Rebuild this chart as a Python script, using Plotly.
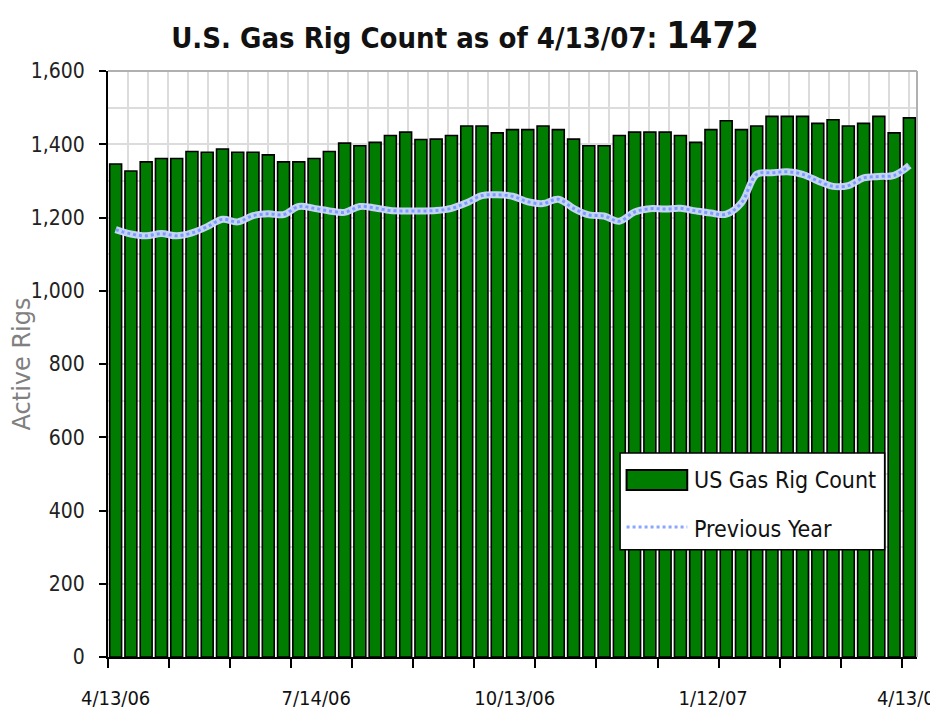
import pandas as pd
import plotly.graph_objects as go

# ---- data ----
week_dates = ["2006-04-13"] + [d.strftime("%Y-%m-%d") for d in pd.date_range("2006-04-21", "2007-04-13", freq="7D")]

gas_rigs = [1346, 1327, 1352, 1361, 1361, 1380, 1378, 1387, 1378, 1378,
            1371, 1352, 1352, 1361, 1380, 1403, 1396, 1405, 1424, 1433,
            1413, 1414, 1424, 1450, 1450, 1431, 1440, 1440, 1450, 1440,
            1414, 1396, 1396, 1424, 1433, 1433, 1433, 1424, 1405, 1440,
            1464, 1440, 1450, 1476, 1476, 1476, 1457, 1467, 1450, 1457,
            1476, 1431, 1472]

prev_year = [1167, 1155, 1150, 1156, 1150, 1158, 1175, 1195, 1188, 1205,
             1210, 1208, 1230, 1225, 1218, 1214, 1230, 1226, 1219, 1218,
             1218, 1219, 1225, 1240, 1260, 1262, 1258, 1243, 1238, 1250,
             1225, 1207, 1204, 1190, 1215, 1224, 1223, 1225, 1218, 1212,
             1209, 1240, 1318, 1322, 1325, 1318, 1300, 1285, 1287, 1308,
             1312, 1315, 1342]

label_dates = ["2006-04-13", "2006-07-14", "2006-10-13", "2007-01-12", "2007-04-13"]
label_text = ["4/13/06", "7/14/06", "10/13/06", "1/12/07", "4/13/07"]
y_ticks = [0, 200, 400, 600, 800, 1000, 1200, 1400, 1600]
series_names = ["US Gas Rig Count", "Previous Year"]

WEEK_MS = 7 * 86400000
FONT = "DejaVu Sans Condensed, Liberation Sans Narrow, Arial Narrow, Liberation Sans"
GREEN = "#007c00"

fig = go.Figure()

fig.add_trace(go.Bar(
    x=week_dates, y=gas_rigs, name=series_names[0],
    xperiod=WEEK_MS, xperiod0="2006-04-13", xperiodalignment="middle",
    marker=dict(color=GREEN, line=dict(color="#000000", width=1.6)),
    showlegend=False,
))
fig.add_trace(go.Scatter(
    x=week_dates, y=prev_year, mode="lines", showlegend=False,
    xperiod=WEEK_MS, xperiod0="2006-04-13", xperiodalignment="middle",
    line=dict(color="rgba(205,218,255,0.95)", width=7, shape="spline"),
    hoverinfo="skip",
))
fig.add_trace(go.Scatter(
    x=week_dates, y=prev_year, mode="lines", name=series_names[1],
    xperiod=WEEK_MS, xperiod0="2006-04-13", xperiodalignment="middle",
    line=dict(color="#7d9cff", width=3, dash="dot", shape="spline"),
    showlegend=False,
))

# invisible helper axis for the background vertical grid pattern
fig.add_trace(go.Scatter(x=[0, 40.4], y=[None, None], xaxis="x2",
                         showlegend=False, hoverinfo="skip"))

label_pos = [(pd.Timestamp(d) + pd.Timedelta(hours=84)).strftime("%Y-%m-%d %H:%M") for d in label_dates]

# legend box drawn as a framed key
legend_shapes = [
    dict(type="rect", xref="paper", yref="paper", x0=0.633, x1=0.960, y0=0.183, y1=0.348,
         fillcolor="white", line=dict(color="#000000", width=1.5), layer="above"),
    dict(type="rect", xref="paper", yref="paper", x0=0.641, x1=0.716, y0=0.285, y1=0.319,
         fillcolor=GREEN, line=dict(color="#000000", width=2), layer="above"),
    dict(type="line", xref="paper", yref="paper", x0=0.641, x1=0.716, y0=0.222, y1=0.222,
         line=dict(color="#8aa6ff", width=3, dash="dot"), layer="above"),
]
legend_annotations = [
    dict(xref="paper", yref="paper", x=0.722, y=0.302, xanchor="left", yanchor="middle",
         text=series_names[0], showarrow=False,
         font=dict(family=FONT, size=23, color="#111111")),
    dict(xref="paper", yref="paper", x=0.722, y=0.218, xanchor="left", yanchor="middle",
         text=series_names[1], showarrow=False,
         font=dict(family=FONT, size=23, color="#111111")),
]

fig.update_layout(
    width=930, height=704,
    paper_bgcolor="white", plot_bgcolor="white",
    margin=dict(l=100, r=21, t=63, b=55),
    bargap=0.22,
    showlegend=False,
    font=dict(family=FONT, color="#111111"),
    title=dict(
        text="<b>U.S. Gas Rig Count as of 4/13/07: <span style='font-size:37px'>1472</span></b>",
        x=0.4914, xanchor="center", y=0.957, yanchor="middle",
        font=dict(family=FONT, size=29, color="#111111"),
    ),
    xaxis=dict(
        type="date",
        range=["2006-04-13", "2007-04-19"],
        tickvals=label_pos, ticktext=label_text,
        ticks="", showgrid=False, automargin=False,
        ticklabeloverflow="allow", ticklabelstandoff=22,
        tickfont=dict(family=FONT, size=20, color="#111111"),
        showline=True, linecolor="#000000", linewidth=2,
        minor=dict(ticks="outside", ticklen=9, tickwidth=1.5, tickcolor="#000000",
                   tick0="2006-04-13", dtick=4 * WEEK_MS, showgrid=False),
        zeroline=False,
    ),
    xaxis2=dict(
        overlaying="x", range=[0, 40.4], dtick=1, showgrid=True,
        gridcolor="#dcdcdc", gridwidth=2, showticklabels=False, ticks="",
        zeroline=False, showline=False, layer="below traces",
    ),
    yaxis=dict(
        range=[0, 1600], tickvals=y_ticks, tickformat=",d",
        ticks="outside", ticklen=7, tickwidth=1.5, tickcolor="#000000",
        ticklabelstandoff=10,
        tickfont=dict(family=FONT, size=21, color="#222222"),
        showline=True, linecolor="#000000", linewidth=2,
        showgrid=True, gridcolor="#dcdcdc", gridwidth=2,
        minor=dict(dtick=100, showgrid=True, gridcolor="#dcdcdc", gridwidth=2),
        zeroline=False, automargin=False,
        title=dict(text="Active Rigs", font=dict(family="DejaVu Sans, Liberation Sans", size=24, color="#808080"), standoff=13),
    ),
    shapes=[
        dict(type="line", xref="paper", yref="paper", x0=0, x1=1, y0=1, y1=1,
             line=dict(color="#b0b0b0", width=2), layer="above"),
        dict(type="line", xref="paper", yref="paper", x0=1, x1=1, y0=0, y1=1,
             line=dict(color="#b0b0b0", width=2), layer="above"),
    ] + legend_shapes,
    annotations=legend_annotations,
)

fig.write_html("out.html")
